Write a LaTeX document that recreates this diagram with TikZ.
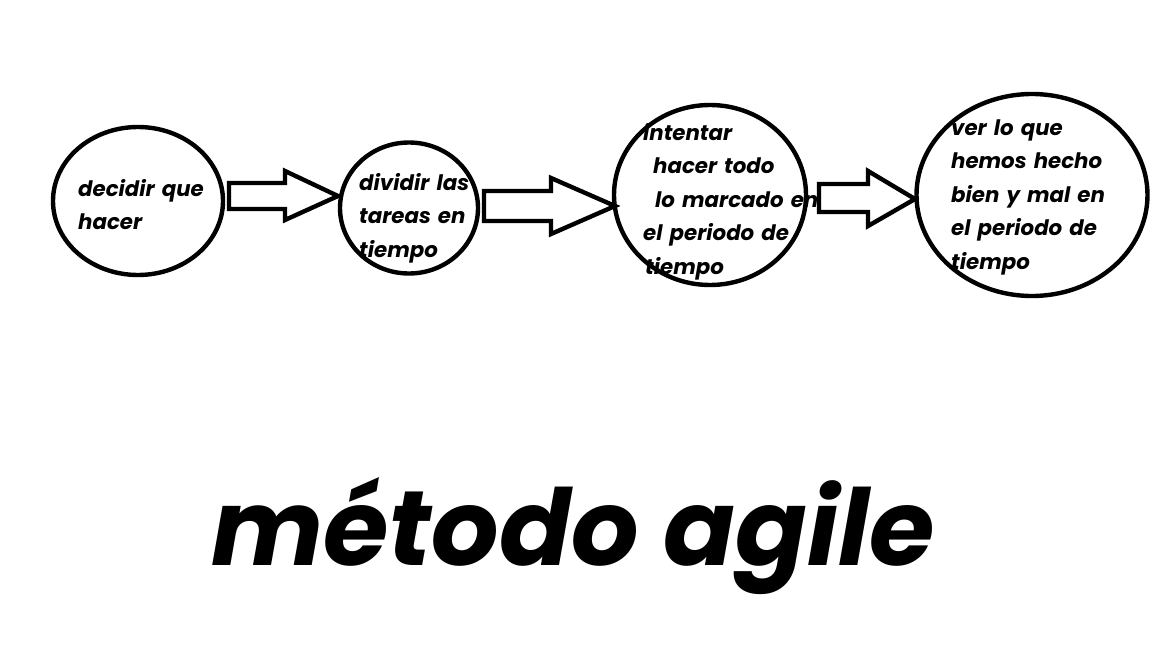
\documentclass[tikz,border=0pt]{standalone}
\usepackage{fontspec}
\setmainfont{Poppins}
\usetikzlibrary{shapes.geometric}
\tikzset{
  bubble/.style={ellipse, draw, line width=4.4pt, inner sep=0pt},
  steptext/.style={anchor=base west, align=left, text width=220pt, inner sep=0pt,
    font=\fontsize{21.3}{33.5}\selectfont\bfseries\itshape},
  blockarrow/.style={draw, line width=4.4pt, line join=miter, fill=white},
  titletext/.style={anchor=base, inner sep=0pt,
    font=\fontsize{106}{120}\selectfont\bfseries\itshape}
}
\begin{document}
\begin{tikzpicture}[x=1pt,y=-1pt]
\useasboundingbox (0,0) rectangle (1152,645);
% texts (behind the outlines)
\node[steptext] (t1) at (78,196) {decidir que\\hacer};
\node[steptext] (t2) at (359,190) {dividir las\\tareas en\\tiempo};
\node[steptext] (t3) at (643,140) {intentar\\\hspace*{10pt}hacer todo\\\hspace*{12pt}lo marcado en\\el periodo de\\\hspace*{2pt}tiempo};
\node[steptext] (t4) at (951,135) {ver lo que\\hemos hecho\\bien y mal en\\el periodo de\\tiempo};
% ellipses
\node[bubble, minimum width=170pt, minimum height=148pt] (e1) at (138,201) {};
\node[bubble, minimum width=138pt, minimum height=131pt] (e2) at (409,208) {};
\node[bubble, minimum width=192pt, minimum height=180pt] (e3) at (710,195) {};
\node[bubble, minimum width=231pt, minimum height=202pt] (e4) at (1032,195) {};
% block arrows
\draw[blockarrow] (229,183) -- (285,183) -- (285,171) -- (338,196) -- (285,220) -- (285,209) -- (229,209) -- cycle;
\draw[blockarrow] (484,191) -- (551,191) -- (551,178) -- (615,206) -- (551,234) -- (551,221) -- (484,221) -- cycle;
\draw[blockarrow] (819,184) -- (868,184) -- (868,171) -- (915,199) -- (868,226) -- (868,212) -- (819,212) -- cycle;
% title
\node[titletext] (title) at (573,565) {método agile};
\end{tikzpicture}
\end{document}
